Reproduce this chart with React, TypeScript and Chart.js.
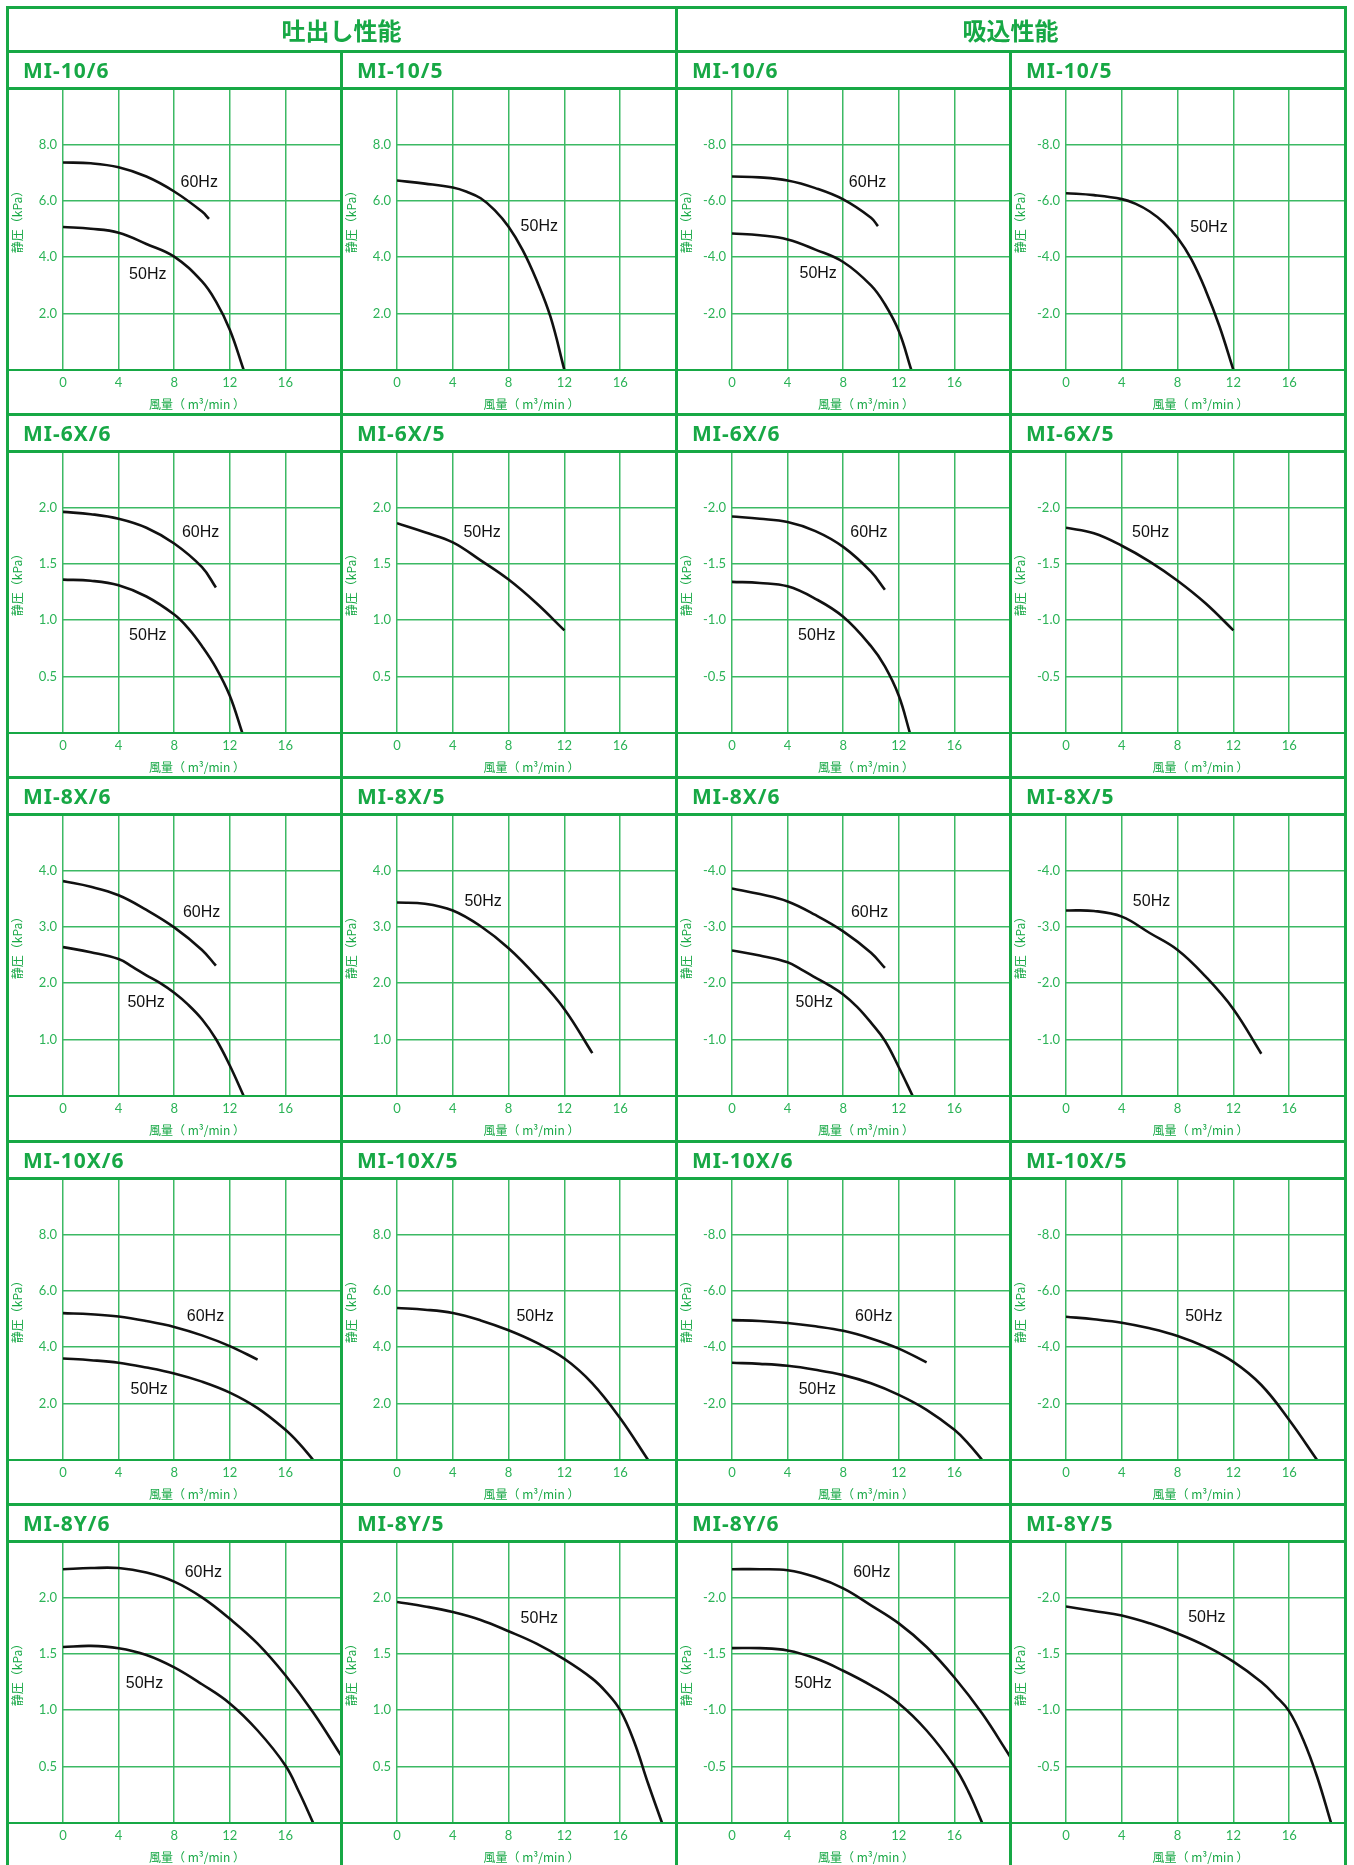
import React, { useEffect, useRef } from 'react';
import { Chart, registerables } from 'chart.js';

Chart.register(...registerables);

// ---------- colours ----------
const GREEN = '#17a845';
const GRID = '#3cb964';
const TICK = '#2bb357';

// ---------- headings ----------
const HEADERS = ['吐出し性能', '吸込性能'];
const ROW_YMAX = [10, 2.5, 5, 10, 2.5];
const X_TITLE = '風量（ m³/min ）';
const Y_TITLE = '静圧（kPa）';

// ---------- data: 風量 (m3/min) and 静圧 (kPa) ----------
// MI-10 discharge
const Q_D10_6_60 = [0, 2, 4, 6, 8, 10, 10.5];
const P_D10_6_60 = [7.36, 7.33, 7.19, 6.86, 6.33, 5.62, 5.36];
const Q_D10_6_50 = [0, 2, 4, 6, 8, 10, 11, 12, 13];
const P_D10_6_50 = [5.07, 5.01, 4.87, 4.47, 4.02, 3.14, 2.43, 1.43, 0];
const Q_D10_5_50 = [0, 2, 4, 5, 6, 7, 8, 9, 10, 11, 12];
const P_D10_5_50 = [6.72, 6.61, 6.47, 6.32, 6.09, 5.67, 5.08, 4.26, 3.19, 1.89, 0];
// MI-10 suction
const Q_S10_6_60 = [0, 2, 4, 6, 8, 10, 10.5];
const P_S10_6_60 = [-6.86, -6.83, -6.72, -6.45, -6.05, -5.4, -5.1];
const Q_S10_6_50 = [0, 2, 4, 6, 8, 10, 11, 12, 12.9];
const P_S10_6_50 = [-4.84, -4.78, -4.63, -4.27, -3.83, -3.0, -2.33, -1.38, 0];
const Q_S10_5_50 = [0, 2, 4, 5, 6, 7, 8, 9, 10, 11, 12];
const P_S10_5_50 = [-6.27, -6.2, -6.06, -5.89, -5.62, -5.23, -4.69, -3.91, -2.84, -1.55, 0];

// MI-6X discharge
const Q_D6X_6_60 = [0, 2, 4, 6, 8, 10, 11];
const P_D6X_6_60 = [1.96, 1.94, 1.9, 1.82, 1.68, 1.47, 1.29];
const Q_D6X_6_50 = [0, 2, 4, 6, 8, 9, 10, 11, 12, 12.9];
const P_D6X_6_50 = [1.36, 1.35, 1.31, 1.21, 1.05, 0.93, 0.77, 0.58, 0.33, 0];
const Q_D6X_5_50 = [0, 2, 4, 6, 8, 10, 12];
const P_D6X_5_50 = [1.86, 1.78, 1.69, 1.53, 1.36, 1.15, 0.91];
// MI-6X suction
const Q_S6X_6_60 = [0, 2, 4, 6, 8, 10, 11];
const P_S6X_6_60 = [-1.92, -1.9, -1.87, -1.79, -1.65, -1.43, -1.27];
const Q_S6X_6_50 = [0, 2, 4, 6, 8, 10, 11, 12, 12.8];
const P_S6X_6_50 = [-1.34, -1.33, -1.3, -1.19, -1.03, -0.77, -0.59, -0.33, 0];
const Q_S6X_5_50 = [0, 2, 4, 6, 8, 10, 12];
const P_S6X_5_50 = [-1.82, -1.77, -1.66, -1.52, -1.35, -1.15, -0.91];

// MI-8X discharge
const Q_D8X_6_60 = [0, 2, 4, 6, 8, 10, 11];
const P_D8X_6_60 = [3.81, 3.71, 3.56, 3.3, 2.99, 2.59, 2.31];
const Q_D8X_6_50 = [0, 2, 4, 5, 6, 7, 8, 9, 10, 11, 12, 13];
const P_D8X_6_50 = [2.64, 2.55, 2.43, 2.29, 2.14, 2.0, 1.83, 1.62, 1.36, 1.01, 0.54, 0];
const Q_D8X_5_50 = [0, 2, 4, 6, 8, 10, 12, 14];
const P_D8X_5_50 = [3.43, 3.41, 3.29, 3.01, 2.62, 2.12, 1.54, 0.76];
// MI-8X suction
const Q_S8X_6_60 = [0, 2, 4, 6, 8, 10, 11];
const P_S8X_6_60 = [-3.68, -3.58, -3.45, -3.21, -2.92, -2.54, -2.27];
const Q_S8X_6_50 = [0, 2, 4, 5, 6, 7, 8, 9, 10, 11, 12, 13];
const P_S8X_6_50 = [-2.58, -2.49, -2.37, -2.24, -2.1, -1.96, -1.8, -1.58, -1.3, -0.98, -0.51, 0];
const Q_S8X_5_50 = [0, 2, 4, 6, 8, 10, 12, 14];
const P_S8X_5_50 = [-3.29, -3.28, -3.18, -2.89, -2.59, -2.12, -1.54, -0.75];

// MI-10X discharge
const Q_D10X_6_60 = [0, 2, 4, 6, 8, 10, 12, 14];
const P_D10X_6_60 = [5.21, 5.17, 5.09, 4.93, 4.72, 4.42, 4.04, 3.56];
const Q_D10X_6_50 = [0, 2, 4, 6, 8, 10, 12, 14, 16, 17, 18];
const P_D10X_6_50 = [3.6, 3.54, 3.45, 3.28, 3.07, 2.78, 2.39, 1.84, 1.07, 0.58, 0];
const Q_D10X_5_50 = [0, 2, 4, 6, 8, 10, 12, 14, 16, 18];
const P_D10X_5_50 = [5.39, 5.33, 5.21, 4.95, 4.6, 4.16, 3.6, 2.72, 1.48, 0];
// MI-10X suction
const Q_S10X_6_60 = [0, 2, 4, 6, 8, 10, 12, 14];
const P_S10X_6_60 = [-4.96, -4.93, -4.86, -4.74, -4.58, -4.31, -3.95, -3.46];
const Q_S10X_6_50 = [0, 2, 4, 6, 8, 10, 12, 14, 16, 17, 18];
const P_S10X_6_50 = [-3.45, -3.41, -3.34, -3.2, -3.01, -2.72, -2.31, -1.78, -1.07, -0.58, 0];
const Q_S10X_5_50 = [0, 2, 4, 6, 8, 10, 12, 14, 16, 18];
const P_S10X_5_50 = [-5.08, -4.99, -4.87, -4.67, -4.4, -4.01, -3.48, -2.66, -1.42, 0];

// MI-8Y discharge
const Q_D8Y_6_60 = [0, 2, 4, 6, 8, 10, 12, 14, 16, 18, 20];
const P_D8Y_6_60 = [2.25, 2.26, 2.26, 2.22, 2.14, 2.0, 1.81, 1.59, 1.31, 0.98, 0.6];
const Q_D8Y_6_50 = [0, 2, 4, 6, 8, 10, 12, 14, 16, 17, 18];
const P_D8Y_6_50 = [1.56, 1.57, 1.55, 1.49, 1.38, 1.23, 1.06, 0.82, 0.51, 0.27, 0];
const Q_D8Y_5_50 = [0, 2, 4, 6, 8, 10, 12, 14, 15, 16, 17, 18, 19];
const P_D8Y_5_50 = [1.96, 1.92, 1.87, 1.8, 1.7, 1.59, 1.45, 1.28, 1.16, 1.0, 0.72, 0.35, 0];
// MI-8Y suction
const Q_S8Y_6_60 = [0, 2, 4, 6, 8, 10, 12, 14, 16, 18, 20];
const P_S8Y_6_60 = [-2.25, -2.25, -2.24, -2.18, -2.08, -1.93, -1.77, -1.56, -1.29, -0.97, -0.59];
const Q_S8Y_6_50 = [0, 2, 4, 6, 8, 10, 12, 14, 16, 17, 18];
const P_S8Y_6_50 = [-1.55, -1.55, -1.53, -1.46, -1.35, -1.22, -1.06, -0.82, -0.5, -0.28, 0];
const Q_S8Y_5_50 = [0, 2, 4, 6, 8, 10, 12, 14, 15, 16, 17, 18, 19];
const P_S8Y_5_50 = [-1.92, -1.88, -1.84, -1.77, -1.68, -1.57, -1.43, -1.25, -1.13, -0.99, -0.74, -0.41, 0];

// ---------- panel configuration ----------
type Curve = { q: number[]; p: number[]; label: string; lq: number; lp: number };
type Panel = { title: string; suction: boolean; yMax: number; curves: Curve[] };

const c = (q: number[], p: number[], label: string, lq: number, lp: number): Curve => ({ q, p, label, lq, lp });

const PANELS: Panel[][] = [
  [
    { title: 'MI-10/6', suction: false, yMax: ROW_YMAX[0], curves: [c(Q_D10_6_60, P_D10_6_60, '60Hz', 9.8, 6.64), c(Q_D10_6_50, P_D10_6_50, '50Hz', 6.1, 3.4)] },
    { title: 'MI-10/5', suction: false, yMax: ROW_YMAX[0], curves: [c(Q_D10_5_50, P_D10_5_50, '50Hz', 10.2, 5.08)] },
    { title: 'MI-10/6', suction: true, yMax: ROW_YMAX[0], curves: [c(Q_S10_6_60, P_S10_6_60, '60Hz', 9.75, -6.65), c(Q_S10_6_50, P_S10_6_50, '50Hz', 6.2, -3.41)] },
    { title: 'MI-10/5', suction: true, yMax: ROW_YMAX[0], curves: [c(Q_S10_5_50, P_S10_5_50, '50Hz', 10.25, -5.05)] },
  ],
  [
    { title: 'MI-6X/6', suction: false, yMax: ROW_YMAX[1], curves: [c(Q_D6X_6_60, P_D6X_6_60, '60Hz', 9.9, 1.78), c(Q_D6X_6_50, P_D6X_6_50, '50Hz', 6.1, 0.86)] },
    { title: 'MI-6X/5', suction: false, yMax: ROW_YMAX[1], curves: [c(Q_D6X_5_50, P_D6X_5_50, '50Hz', 6.1, 1.78)] },
    { title: 'MI-6X/6', suction: true, yMax: ROW_YMAX[1], curves: [c(Q_S6X_6_60, P_S6X_6_60, '60Hz', 9.85, -1.78), c(Q_S6X_6_50, P_S6X_6_50, '50Hz', 6.1, -0.86)] },
    { title: 'MI-6X/5', suction: true, yMax: ROW_YMAX[1], curves: [c(Q_S6X_5_50, P_S6X_5_50, '50Hz', 6.07, -1.78)] },
  ],
  [
    { title: 'MI-8X/6', suction: false, yMax: ROW_YMAX[2], curves: [c(Q_D8X_6_60, P_D8X_6_60, '60Hz', 9.97, 3.26), c(Q_D8X_6_50, P_D8X_6_50, '50Hz', 5.98, 1.65)] },
    { title: 'MI-8X/5', suction: false, yMax: ROW_YMAX[2], curves: [c(Q_D8X_5_50, P_D8X_5_50, '50Hz', 6.17, 3.44)] },
    { title: 'MI-8X/6', suction: true, yMax: ROW_YMAX[2], curves: [c(Q_S8X_6_60, P_S8X_6_60, '60Hz', 9.9, -3.26), c(Q_S8X_6_50, P_S8X_6_50, '50Hz', 5.92, -1.65)] },
    { title: 'MI-8X/5', suction: true, yMax: ROW_YMAX[2], curves: [c(Q_S8X_5_50, P_S8X_5_50, '50Hz', 6.13, -3.44)] },
  ],
  [
    { title: 'MI-10X/6', suction: false, yMax: ROW_YMAX[3], curves: [c(Q_D10X_6_60, P_D10X_6_60, '60Hz', 10.25, 5.07), c(Q_D10X_6_50, P_D10X_6_50, '50Hz', 6.2, 2.48)] },
    { title: 'MI-10X/5', suction: false, yMax: ROW_YMAX[3], curves: [c(Q_D10X_5_50, P_D10X_5_50, '50Hz', 9.9, 5.07)] },
    { title: 'MI-10X/6', suction: true, yMax: ROW_YMAX[3], curves: [c(Q_S10X_6_60, P_S10X_6_60, '60Hz', 10.2, -5.07), c(Q_S10X_6_50, P_S10X_6_50, '50Hz', 6.14, -2.48)] },
    { title: 'MI-10X/5', suction: true, yMax: ROW_YMAX[3], curves: [c(Q_S10X_5_50, P_S10X_5_50, '50Hz', 9.88, -5.07)] },
  ],
  [
    { title: 'MI-8Y/6', suction: false, yMax: ROW_YMAX[4], curves: [c(Q_D8Y_6_60, P_D8Y_6_60, '60Hz', 10.1, 2.22), c(Q_D8Y_6_50, P_D8Y_6_50, '50Hz', 5.86, 1.24)] },
    { title: 'MI-8Y/5', suction: false, yMax: ROW_YMAX[4], curves: [c(Q_D8Y_5_50, P_D8Y_5_50, '50Hz', 10.2, 1.81)] },
    { title: 'MI-8Y/6', suction: true, yMax: ROW_YMAX[4], curves: [c(Q_S8Y_6_60, P_S8Y_6_60, '60Hz', 10.06, -2.22), c(Q_S8Y_6_50, P_S8Y_6_50, '50Hz', 5.84, -1.24)] },
    { title: 'MI-8Y/5', suction: true, yMax: ROW_YMAX[4], curves: [c(Q_S8Y_5_50, P_S8Y_5_50, '50Hz', 10.1, -1.82)] },
  ],
];

// ---------- layout ----------
const COL_LINES = [7, 341, 676, 1010, 1345];
const ROW_TOPS = [51, 414, 777, 1141, 1504];
const TITLE_H = 37;
const PLOT_H = 282;
const XAXIS_H = 45;
const YAXIS_W = 56;

const FONT_NUM = 'Lato, "Open Sans", sans-serif';
const FONT_JP = '"Noto Sans CJK JP", "Noto Sans", sans-serif';

function PanelChart({ panel, left, top, width }: { panel: Panel; left: number; top: number; width: number }) {
  const ref = useRef<HTMLCanvasElement | null>(null);
  useEffect(() => {
    if (!ref.current) return;
    const yMax = panel.yMax;
    const datasets = panel.curves.map((cv) => ({
      label: cv.label,
      data: cv.q.map((q, i) => ({ x: q, y: cv.p[i] })),
      borderColor: '#111111',
      borderWidth: 2.6,
      pointRadius: 0,
      fill: false,
      tension: 0.4,
    }));
    const annot = {
      id: 'panelText',
      afterDatasetsDraw(chart: any) {
        const { ctx, chartArea, scales } = chart;
        const xs = scales.x;
        const ys = scales.y;
        ctx.save();
        ctx.fillStyle = '#111111';
        ctx.font = '16px "Liberation Sans", Arial, sans-serif';
        ctx.textAlign = 'center';
        ctx.textBaseline = 'middle';
        panel.curves.forEach((cv) => {
          ctx.fillText(cv.label, xs.getPixelForValue(cv.lq), ys.getPixelForValue(cv.lp));
        });
        // axis titles
        ctx.fillStyle = GREEN;
        ctx.font = '12px ' + FONT_JP;
        ctx.fillText(X_TITLE, (chartArea.left + chartArea.right) / 2 - 5, chartArea.bottom + 34);
        ctx.translate(10, (chartArea.top + chartArea.bottom) / 2 - 10);
        ctx.rotate(-Math.PI / 2);
        ctx.fillText(Y_TITLE, 0, 0);
        ctx.restore();
      },
    };
    const fmt = (v: number | string) => {
      const n = Number(v);
      if (Math.abs(n) < 1e-9 || Math.abs(Math.abs(n) - yMax) < 1e-9) return '';
      return n.toFixed(1);
    };
    const chart = new Chart(ref.current, {
      type: 'line',
      data: { datasets },
      options: {
        responsive: false,
        animation: false,
        devicePixelRatio: 1,
        layout: { padding: 0, autoPadding: false },
        plugins: { legend: { display: false }, tooltip: { enabled: false }, title: { display: false } },
        scales: {
          x: {
            type: 'linear',
            min: 0,
            max: 20,
            ticks: {
              stepSize: 4,
              color: TICK,
              font: { family: FONT_NUM, size: 13 },
              padding: 5,
              maxRotation: 0,
              callback: (v: any) => (Number(v) >= 20 ? '' : String(v)),
            },
            grid: { color: GRID, lineWidth: 1.5, drawTicks: false },
            border: { display: false },
            afterFit: (s: any) => {
              s.height = XAXIS_H;
              s.paddingLeft = 0;
              s.paddingRight = 0;
            },
          },
          y: {
            type: 'linear',
            min: panel.suction ? -yMax : 0,
            max: panel.suction ? 0 : yMax,
            reverse: panel.suction,
            ticks: {
              stepSize: yMax / 5,
              color: TICK,
              font: { family: FONT_NUM, size: 13 },
              padding: 6,
              callback: fmt,
            },
            grid: { color: GRID, lineWidth: 1.5, drawTicks: false },
            border: { display: false },
            afterFit: (s: any) => {
              s.width = YAXIS_W;
              s.paddingTop = 0;
              s.paddingBottom = 0;
            },
          },
        },
      },
      plugins: [annot],
    } as any);
    return () => chart.destroy();
  }, [panel]);
  return (
    <canvas
      ref={ref}
      width={width}
      height={PLOT_H + XAXIS_H}
      style={{ position: 'absolute', left, top, width, height: PLOT_H + XAXIS_H, display: 'block' }}
    />
  );
}

function HLine({ x1, x2, y, w }: { x1: number; x2: number; y: number; w: number }) {
  return <div style={{ position: 'absolute', left: x1 - 1.5, top: y - w / 2, width: x2 - x1 + 3, height: w, background: GREEN }} />;
}
function VLine({ x, y1, y2, w }: { x: number; y1: number; y2: number; w: number }) {
  return <div style={{ position: 'absolute', left: x - w / 2, top: y1 - 1.5, width: w, height: y2 - y1 + 3, background: GREEN }} />;
}

export default function App() {
  useEffect(() => {
    document.body.style.margin = '0';
  }, []);
  const L = COL_LINES[0];
  const R = COL_LINES[4];
  const TOP = 7;
  const BOTTOM = 1870;
  const lines: React.ReactNode[] = [];
  lines.push(<HLine key="top" x1={L} x2={R} y={TOP} w={3} />);
  ROW_TOPS.forEach((rt, r) => {
    lines.push(<HLine key={'rt' + r} x1={L} x2={R} y={rt} w={3} />);
    lines.push(<HLine key={'tb' + r} x1={L} x2={R} y={rt + TITLE_H} w={3} />);
    lines.push(<HLine key={'z' + r} x1={L} x2={R} y={rt + TITLE_H + PLOT_H} w={2} />);
  });
  COL_LINES.forEach((x, i) => {
    const y1 = i === 1 || i === 3 ? ROW_TOPS[0] : TOP;
    lines.push(<VLine key={'v' + i} x={x} y1={y1} y2={BOTTOM} w={3} />);
  });

  return (
    <div style={{ position: 'absolute', left: 0, top: 0, width: 1354, height: 1865, overflow: 'hidden', background: '#ffffff' }}>
      {PANELS.map((row, r) =>
        row.map((panel, ci) => (
          <PanelChart
            key={r + '-' + ci}
            panel={panel}
            left={COL_LINES[ci]}
            top={ROW_TOPS[r] + TITLE_H}
            width={COL_LINES[ci + 1] - COL_LINES[ci]}
          />
        ))
      )}
      {lines}
      {HEADERS.map((h, i) => (
        <div
          key={'h' + i}
          style={{
            position: 'absolute',
            left: COL_LINES[i * 2],
            width: COL_LINES[i * 2 + 2] - COL_LINES[i * 2],
            top: TOP,
            height: ROW_TOPS[0] - TOP,
            display: 'flex',
            alignItems: 'center',
            justifyContent: 'center',
            color: GREEN,
            fontFamily: FONT_JP,
            fontWeight: 700,
            fontSize: 24,
          }}
        >
          {h}
        </div>
      ))}
      {PANELS.map((row, r) =>
        row.map((panel, ci) => (
          <div
            key={'t' + r + '-' + ci}
            style={{
              position: 'absolute',
              left: COL_LINES[ci] + 16,
              top: ROW_TOPS[r],
              height: TITLE_H,
              display: 'flex',
              alignItems: 'center',
              color: GREEN,
              fontFamily: '"Noto Sans", "DejaVu Sans", sans-serif',
              fontWeight: 700,
              fontSize: 21,
              letterSpacing: 1,
            }}
          >
            {panel.title}
          </div>
        ))
      )}
    </div>
  );
}
